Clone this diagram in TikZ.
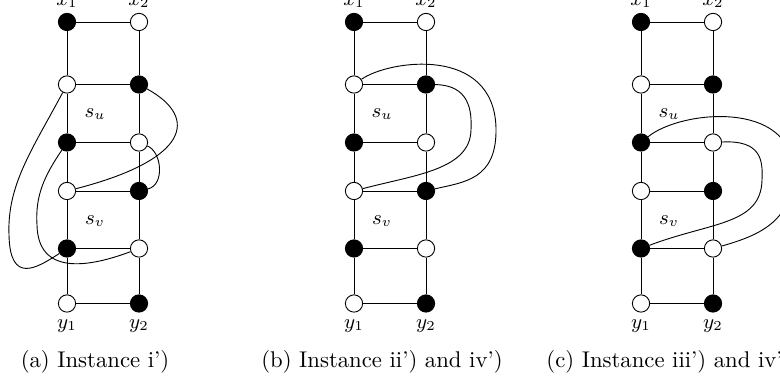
\documentclass[tikz,border=0pt]{standalone}
\usepackage{tikz}
\usetikzlibrary{positioning}
\tikzset{
  blk/.style    = {circle,draw,fill=black,minimum size=7.6pt,inner sep=0pt},
  wht/.style    = {circle,draw,fill=white,minimum size=7.6pt,inner sep=0pt},
  vlabel/.style = {font=\small,inner sep=1pt},
  flabel/.style = {font=\small,inner sep=0pt},
  capt/.style   = {font=\normalsize,inner sep=0pt}
}
\newcommand{\ladder}[2]{%
  \foreach \r/\y/\cl/\cr in {1/22/blk/wht,2/84.5/wht/blk,3/142.5/blk/wht,4/191/wht/blk,5/248.5/blk/wht,6/303.5/wht/blk}{
    \node[\cl] (#1L\r) at (0,\y) {};
    \node[\cr] (#1R\r) at (72,\y) {};
    \draw (#1L\r) -- (#1R\r);
  }
  \foreach \r/\s in {1/2,2/3,3/4,4/5,5/6}{
    \draw (#1L\r) -- (#1L\s);
    \draw (#1R\r) -- (#1R\s);
  }
  \node[vlabel,above=1pt of #1L1] (#1x1) {$x_1$};
  \node[vlabel,above=1pt of #1R1] (#1x2) {$x_2$};
  \node[vlabel,below=2pt of #1L6] (#1y1) {$y_1$};
  \node[vlabel,below=2pt of #1R6] (#1y2) {$y_2$};
  \node[flabel] (#1su) at (28,114) {$s_u$};
  \node[flabel] (#1sv) at (28,221) {$s_v$};
  \node[capt] (#1cap) at (28,362) {#2};
}

\begin{document}
\begin{tikzpicture}[x=0.44pt,y=-0.44pt]
  \useasboundingbox (0,0) rectangle (780,381);

  \begin{scope}[shift={(67,0)}]
    \ladder{a}{(a) Instance i')}
    \draw (aR2) .. controls (133,118) and (121,160) .. (aL4);
    \draw (aR3) .. controls (95,152) and (98,185) .. (aR4);
    \draw (aL2) .. controls (-35,150) and (-60,185) .. (-58,235)
                .. controls (-57,285) and (-30,268) .. (aL5);
    \draw (aL3) .. controls (-22,175) and (-32,195) .. (-30,225)
                .. controls (-29,275) and (20,268) .. (aR5);
  \end{scope}

  \begin{scope}[shift={(354,0)}]
    \ladder{b}{(b) Instance ii') and iv')}
    \draw (bL2) .. controls (35,60) and (140,45) .. (142,128)
                .. controls (143,180) and (110,182) .. (bR4);
    \draw (bR2) .. controls (115,85) and (118,110) .. (117,130)
                .. controls (116,170) and (60,175) .. (bL4);
  \end{scope}

  \begin{scope}[shift={(641,0)}]
    \ladder{c}{(c) Instance iii') and iv')}
    \draw (cL3) .. controls (40,110) and (150,100) .. (152,170)
                .. controls (153,220) and (120,235) .. (cR5);
    \draw (cR3) .. controls (120,140) and (122,160) .. (121,180)
                .. controls (120,225) and (70,222) .. (cL5);
  \end{scope}
\end{tikzpicture}
\end{document}
